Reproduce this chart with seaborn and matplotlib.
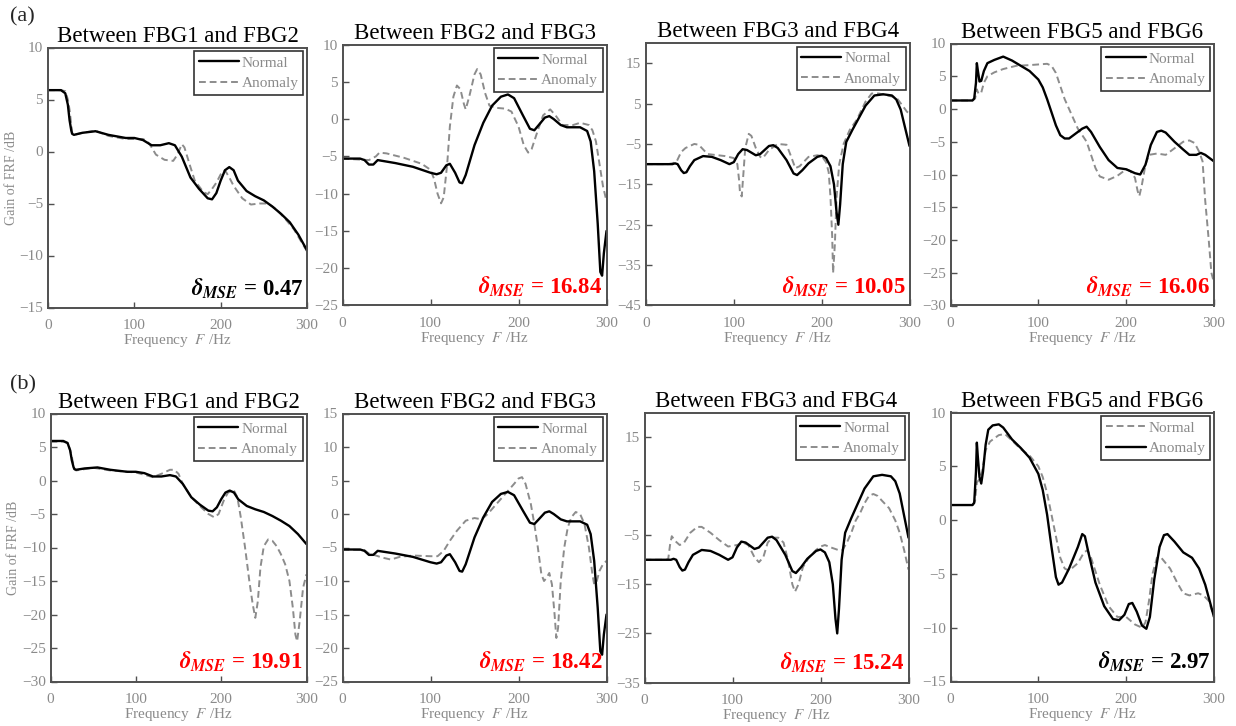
import matplotlib
matplotlib.use("Agg")
import matplotlib.pyplot as plt
import seaborn as sns

# ---------------------------------------------------------------- data
# Column 1: between FBG1 and FBG2
f_c1_normal = [0, 10, 15, 20, 23, 25, 27, 28, 30, 40, 55, 70, 90, 100, 110, 120, 130, 140, 147,
               155, 165, 175, 185, 190, 195, 200, 205, 210, 215, 220, 230, 240, 250, 260, 270,
               280, 290, 300]
g_c1_normal = [5.9, 5.9, 5.9, 5.6, 4.5, 3.0, 2.0, 1.7, 1.6, 1.8, 1.95, 1.6, 1.3, 1.3, 1.1, 0.6,
               0.6, 0.8, 0.6, -0.5, -2.5, -3.6, -4.5, -4.6, -4.0, -2.8, -1.8, -1.5, -1.8, -2.8,
               -3.8, -4.3, -4.7, -5.3, -6.0, -6.8, -8.0, -9.5]
f_a1_anomaly = [0, 10, 15, 20, 23, 25, 28, 30, 40, 55, 70, 90, 110, 115, 120, 125, 135, 145, 150,
                155, 158, 165, 170, 180, 185, 190, 195, 200, 205, 210, 215, 225, 235, 245, 255,
                265, 275, 285, 300]
g_a1_anomaly = [5.9, 5.9, 5.9, 5.8, 5.0, 4.0, 1.8, 1.6, 1.8, 2.0, 1.5, 1.2, 1.2, 1.0, 0.4, -0.3,
                -0.8, -0.9, -0.3, 0.7, 0.4, -1.5, -2.8, -3.9, -4.1, -3.6, -3.0, -2.2, -1.8, -2.5,
                -3.3, -4.5, -5.1, -5.0, -5.0, -5.6, -6.5, -7.5, -9.6]
f_b1_anomaly = [0, 10, 15, 20, 23, 25, 28, 30, 50, 70, 100, 120, 130, 140, 145, 150, 155, 165,
                175, 185, 192, 197, 203, 208, 215, 219, 223, 228, 233, 237, 240, 243, 246, 250,
                255, 260, 265, 270, 275, 280, 284, 287, 289, 292, 296, 300]
g_b1_anomaly = [5.8, 5.8, 5.8, 5.6, 4.6, 3.5, 1.7, 1.5, 1.9, 1.5, 1.2, 0.5, 1.0, 1.6, 1.6, 1.0,
                -0.5, -2.5, -3.8, -5.0, -5.5, -5.0, -3.0, -1.8, -1.5, -2.5, -5.5, -10.0, -15.0,
                -18.5, -20.5, -18.0, -13.0, -9.8, -8.8, -9.0, -9.8, -11.0, -12.5, -15.0, -19.0,
                -23.0, -24.0, -21.0, -16.0, -14.0]

# Column 2: between FBG2 and FBG3
f_c2_normal = [0, 20, 25, 30, 35, 40, 45, 60, 80, 100, 107, 112, 118, 122, 128, 133, 136, 140,
               150, 160, 170, 180, 188, 195, 205, 213, 218, 223, 230, 235, 240, 248, 255, 270,
               278, 282, 286, 290, 293, 295, 297, 300]
g_c2_normal = [-5.3, -5.3, -5.5, -6.1, -6.1, -5.5, -5.6, -5.9, -6.4, -7.2, -7.4, -7.2, -6.2,
               -6.0, -7.2, -8.5, -8.6, -7.5, -3.5, -0.5, 1.8, 3.0, 3.3, 2.8, 0.5, -1.3, -1.5,
               -0.8, 0.2, 0.4, 0.0, -0.8, -1.1, -1.1, -1.6, -3.0, -7.0, -14.0, -20.5, -21.0,
               -18.0, -15.0]
f_a2_anomaly = [0, 30, 38, 42, 50, 70, 90, 100, 104, 108, 112, 115, 119, 122, 126, 130, 134, 138,
                140, 144, 150, 153, 157, 162, 167, 175, 185, 192, 200, 206, 211, 215, 222, 228,
                236, 242, 250, 262, 270, 280, 284, 288, 292, 296, 300]
g_a2_anomaly = [-5.3, -5.5, -5.0, -4.5, -4.6, -5.2, -6.0, -6.8, -8.0, -10.0, -11.3, -10.5, -6.0,
                -1.0, 3.0, 4.5, 4.0, 2.0, 1.3, 3.0, 6.0, 6.7, 6.0, 3.5, 1.8, 1.5, 1.4, 1.0, -1.0,
                -3.5, -4.5, -4.0, -1.5, 0.5, 1.3, 0.5, -0.8, -0.8, -0.5, -0.8, -1.5, -3.0, -6.0,
                -9.0, -11.0]
f_b2_anomaly = [0, 25, 30, 38, 45, 55, 65, 80, 100, 108, 115, 122, 130, 140, 150, 158, 165, 175,
                185, 195, 200, 204, 208, 214, 218, 222, 226, 229, 232, 235, 238, 241, 243, 245,
                248, 252, 256, 260, 265, 270, 275, 280, 284, 286, 289, 292, 296, 300]
g_b2_anomaly = [-5.3, -5.4, -5.9, -6.2, -6.5, -6.8, -6.4, -6.2, -6.3, -6.3, -5.5, -4.0, -2.5,
                -1.0, -0.6, -0.8, 0.0, 1.5, 3.0, 4.5, 5.3, 5.5, 4.5, 1.5, -1.5, -5.0, -9.0, -10.0,
                -9.5, -8.8, -10.5, -15.0, -18.5, -17.0, -10.0, -5.0, -2.0, -0.5, 0.3, 0.0, -1.5,
                -5.0, -9.0, -10.5, -10.0, -8.5, -7.5, -7.0]

# Column 3: between FBG3 and FBG4
f_c3_normal = [0, 30, 33, 36, 40, 43, 46, 50, 55, 65, 75, 85, 95, 100, 105, 110, 115, 125, 130,
               140, 145, 150, 160, 168, 172, 178, 185, 195, 200, 205, 210, 214, 217, 219, 221,
               224, 228, 235, 240, 250, 260, 270, 280, 285, 290, 295, 300]
g_c3_normal = [-10.0, -10.0, -9.8, -10.0, -11.5, -12.2, -12.0, -10.5, -9.0, -8.0, -8.2, -9.0,
               -10.0, -9.5, -7.5, -6.3, -6.5, -7.8, -7.5, -5.5, -5.3, -6.0, -9.0, -12.3, -12.7,
               -11.5, -9.8, -8.2, -7.9, -8.5, -10.5, -15.0, -22.0, -25.0, -20.0, -10.0, -4.5,
               -1.5, 0.5, 4.5, 7.0, 7.3, 7.0, 6.0, 3.5, -1.0, -5.5]
f_a3_anomaly = [0, 25, 30, 35, 40, 45, 55, 60, 70, 90, 100, 104, 106, 107, 109, 111, 113, 117,
                120, 125, 130, 133, 140, 150, 160, 165, 170, 175, 185, 195, 200, 205, 208, 210,
                212, 213, 215, 217, 220, 225, 232, 240, 250, 257, 265, 275, 285, 292, 297, 300]
g_a3_anomaly = [-10.0, -10.0, -9.8, -9.3, -7.0, -6.0, -5.0, -5.2, -7.5, -8.0, -8.5, -10.0, -14.0,
                -17.0, -18.0, -12.0, -6.0, -2.5, -3.0, -6.0, -8.2, -8.5, -6.5, -5.0, -5.2, -8.0,
                -11.0, -10.5, -8.2, -7.8, -8.0, -9.5, -12.0, -18.0, -28.0, -37.0, -30.0, -18.0,
                -10.0, -5.0, -1.5, 1.0, 5.5, 7.5, 7.5, 7.0, 6.5, 4.5, 3.0, 2.5]
f_b3_anomaly = [0, 25, 27, 29, 31, 35, 40, 45, 52, 60, 65, 75, 85, 95, 105, 112, 118, 125, 130,
                135, 140, 145, 152, 158, 163, 168, 171, 175, 180, 187, 195, 200, 205, 212, 220,
                225, 230, 235, 240, 245, 250, 255, 260, 265, 270, 278, 285, 290, 295, 300]
g_b3_anomaly = [-10.0, -10.0, -9.8, -7.0, -5.2, -6.2, -7.0, -6.5, -4.5, -3.3, -3.3, -4.5, -6.0,
                -7.3, -7.0, -6.5, -7.0, -9.5, -10.5, -9.5, -6.5, -5.5, -5.5, -6.5, -10.0, -15.0,
                -16.5, -15.0, -11.5, -9.5, -8.0, -7.3, -7.0, -7.5, -8.0, -8.0, -6.5, -4.5, -2.0,
                -0.5, 1.5, 3.0, 3.4, 3.0, 2.0, 0.5, -2.0, -4.5, -8.0, -12.0]

# Column 4: between FBG5 and FBG6
f_a4_normal = [0, 25, 27, 29, 30, 31, 33, 35, 38, 42, 50, 60, 70, 80, 90, 100, 105, 110, 115,
               120, 125, 130, 135, 140, 150, 155, 160, 170, 180, 190, 200, 210, 216, 222, 228,
               235, 240, 245, 255, 265, 272, 280, 285, 290, 295, 300]
g_a4_normal = [1.3, 1.3, 1.6, 4.0, 7.0, 6.0, 4.2, 4.3, 5.8, 7.0, 7.5, 8.0, 7.4, 6.6, 5.8, 4.5,
               3.3, 1.5, -0.5, -2.5, -4.0, -4.5, -4.5, -4.0, -3.0, -2.7, -3.5, -5.8, -7.8, -9.0,
               -9.2, -9.8, -10.0, -8.5, -5.5, -3.5, -3.3, -3.6, -5.0, -6.2, -7.0, -7.0, -6.7,
               -7.0, -7.5, -8.0]
f_a4_anomaly = [0, 25, 28, 30, 32, 35, 38, 42, 50, 60, 75, 90, 110, 115, 120, 125, 130, 140, 145,
                150, 155, 160, 165, 170, 180, 190, 200, 205, 210, 213, 215, 218, 222, 226, 235,
                245, 255, 265, 272, 278, 283, 287, 290, 294, 297, 299]
g_a4_anomaly = [1.3, 1.3, 1.6, 3.0, 2.3, 2.5, 4.0, 5.0, 5.6, 6.1, 6.6, 6.7, 6.9, 6.6, 5.5, 3.5,
                1.5, -1.5, -3.0, -4.0, -5.0, -7.0, -9.0, -10.3, -10.8, -10.2, -9.2, -9.5, -10.5,
                -12.5, -13.3, -11.5, -8.5, -7.0, -6.8, -7.0, -6.0, -5.0, -4.8, -5.2, -6.5, -8.0,
                -14.0, -20.0, -25.0, -26.0]
f_b4_normal = [0, 25, 28, 30, 33, 36, 40, 45, 55, 62, 70, 80, 90, 100, 105, 110, 115, 120, 125,
               130, 135, 145, 152, 156, 160, 170, 180, 190, 200, 210, 218, 222, 226, 230, 235,
               240, 250, 258, 265, 272, 282, 288, 294, 300]
g_b4_normal = [1.4, 1.4, 1.8, 3.5, 3.8, 4.5, 6.5, 7.3, 7.9, 8.0, 7.4, 6.6, 6.0, 5.0, 4.0, 2.5,
               0.5, -1.5, -3.5, -4.5, -4.7, -4.0, -3.0, -2.8, -3.5, -6.0, -8.0, -9.0, -9.0,
               -9.7, -10.0, -9.5, -7.5, -5.0, -3.5, -3.5, -4.5, -5.8, -6.8, -7.0, -6.8, -7.0,
               -7.5, -9.0]
f_b4_anomaly = [0, 25, 27, 29, 30, 31, 33, 35, 37, 40, 43, 48, 55, 60, 70, 80, 90, 100, 105, 110,
                115, 120, 123, 127, 135, 145, 150, 153, 157, 165, 175, 185, 192, 198, 203, 207,
                212, 218, 223, 227, 232, 238, 243, 247, 255, 265, 275, 283, 290, 295, 300]
g_b4_anomaly = [1.4, 1.4, 1.6, 4.5, 7.2, 6.0, 4.0, 3.4, 4.5, 7.0, 8.4, 8.8, 8.9, 8.6, 7.5, 6.7,
                5.8, 4.3, 2.8, 0.5, -2.5, -5.3, -6.0, -5.8, -4.5, -2.5, -1.3, -1.5, -3.0, -5.8,
                -8.0, -9.2, -9.3, -8.8, -7.8, -7.7, -8.5, -9.8, -10.1, -9.0, -5.5, -2.5, -1.4,
                -1.3, -2.0, -3.0, -3.5, -4.5, -6.0, -7.5, -9.0]

titles = ["Between FBG1 and FBG2", "Between FBG2 and FBG3",
          "Between FBG3 and FBG4", "Between FBG5 and FBG6"]
mse_a = [0.47, 16.84, 10.05, 16.06]
mse_b = [19.91, 18.42, 15.24, 2.97]
row_labels = ["(a)", "(b)"]

# ---------------------------------------------------------------- style
sns.set_style("ticks")
plt.rcParams["font.family"] = ["Liberation Serif", "DejaVu Serif"]
plt.rcParams["mathtext.fontset"] = "stix"

W, H = 1236, 726
fig = plt.figure(figsize=(W / 100, H / 100), dpi=100)

TICK_GREY = "#8a8a8a"
SPINE = "#505050"
DASH_GREY = "#8c8c8c"

def add_axes_px(left, top, right, bottom):
    return fig.add_axes([left / W, 1 - bottom / H, (right - left) / W, (bottom - top) / H])

boxes_a = [(48, 47.5, 307, 307.5), (342.5, 44.5, 606.5, 305.5),
           (646, 43, 909.5, 305.5), (950.5, 43.5, 1214, 305.5)]
boxes_b = [(50.5, 413.5, 306.5, 681.5), (342.5, 413.5, 606.5, 681.5),
           (644.5, 412.5, 908.5, 682.5), (950.5, 412.5, 1214, 681.5)]

ylims_a = [(-15, 10), (-25, 10), (-45, 20), (-30, 10)]
yticks_a = [range(-15, 11, 5), range(-25, 11, 5), range(-45, 16, 10), range(-30, 11, 5)]
ylims_b = [(-30, 10), (-25, 15), (-35, 20), (-15, 10)]
yticks_b = [range(-30, 11, 5), range(-25, 16, 5), range(-35, 16, 10), range(-15, 11, 5)]

curves_a = [
    ((f_c1_normal, g_c1_normal), (f_a1_anomaly, g_a1_anomaly)),
    ((f_c2_normal, g_c2_normal), (f_a2_anomaly, g_a2_anomaly)),
    ((f_c3_normal, g_c3_normal), (f_a3_anomaly, g_a3_anomaly)),
    ((f_a4_normal, g_a4_normal), (f_a4_anomaly, g_a4_anomaly)),
]
curves_b = [
    ((f_c1_normal, g_c1_normal), (f_b1_anomaly, g_b1_anomaly)),
    ((f_c2_normal, g_c2_normal), (f_b2_anomaly, g_b2_anomaly)),
    ((f_c3_normal, g_c3_normal), (f_b3_anomaly, g_b3_anomaly)),
    ((f_b4_normal, g_b4_normal), (f_b4_anomaly, g_b4_anomaly)),
]

solid_kw = dict(color="black", linewidth=1.7, linestyle="-")
dash_kw = dict(color=DASH_GREY, linewidth=1.4, linestyle=(0, (3.5, 2)))


def draw_panel(ax, normal, anomaly, ylim, yticks, title, mse, swap=False, first_col=False):
    n_kw, a_kw = (dash_kw, solid_kw) if swap else (solid_kw, dash_kw)
    # draw the dashed series first so the solid series sits on top
    order = [(anomaly, a_kw, "Anomaly"), (normal, n_kw, "Normal")]
    if swap:
        order = order[::-1]
    for (fx, gy), kw, lab in order:
        sns.lineplot(x=fx, y=gy, ax=ax, estimator=None, sort=False, label=lab, **kw)
    ax.set_xlim(0, 300)
    ax.set_ylim(*ylim)
    ax.set_xticks([0, 100, 200, 300])
    ax.set_yticks(list(yticks))
    ax.tick_params(direction="in", length=4, width=1, colors=SPINE, labelcolor=TICK_GREY,
                   labelsize=11)
    ax.tick_params(axis="x", pad=8)
    for sp in ax.spines.values():
        sp.set_visible(True)
        sp.set_color(SPINE)
        sp.set_linewidth(1.4)
    ax.set_title(title, fontsize=16.5, color="black", pad=4)
    ax.set_xlabel(r"Frequency  $\mathit{F}$ /Hz", fontsize=11, color=TICK_GREY, labelpad=0)
    if first_col:
        ax.set_ylabel("Gain of FRF /dB", fontsize=10, color=TICK_GREY, labelpad=1)
    else:
        ax.set_ylabel("")
    handles, labels = ax.get_legend_handles_labels()
    idx = [labels.index("Normal"), labels.index("Anomaly")]
    leg = ax.legend([handles[i] for i in idx], [labels[i] for i in idx], loc="upper right",
                    fontsize=11, frameon=True, fancybox=False, borderpad=0.3,
                    handlelength=2.6, handletextpad=0.2, labelspacing=0.45,
                    borderaxespad=0.25)
    leg.get_frame().set_edgecolor("black")
    leg.get_frame().set_linewidth(1.2)
    for t in leg.get_texts():
        t.set_color(TICK_GREY)
    col = "black" if mse < 5 else "#ff0000"
    ax.text(0.985, 0.03, r"$\boldsymbol{\delta}_{\boldsymbol{MSE}}$" + f" = {mse:.2f}",
            transform=ax.transAxes, ha="right", va="bottom", fontsize=16.5,
            fontweight="bold", color=col)


for i in range(4):
    ax = add_axes_px(*boxes_a[i])
    draw_panel(ax, curves_a[i][0], curves_a[i][1], ylims_a[i], yticks_a[i], titles[i],
               mse_a[i], swap=False, first_col=(i == 0))
    ax = add_axes_px(*boxes_b[i])
    draw_panel(ax, curves_b[i][0], curves_b[i][1], ylims_b[i], yticks_b[i], titles[i],
               mse_b[i], swap=(i == 3), first_col=(i == 0))

fig.text(10 / W, 1 - 17 / H, row_labels[0], fontsize=16, ha="left", va="center")
fig.text(10 / W, 1 - 385 / H, row_labels[1], fontsize=16, ha="left", va="center")

fig.savefig("out.png", dpi=100)
